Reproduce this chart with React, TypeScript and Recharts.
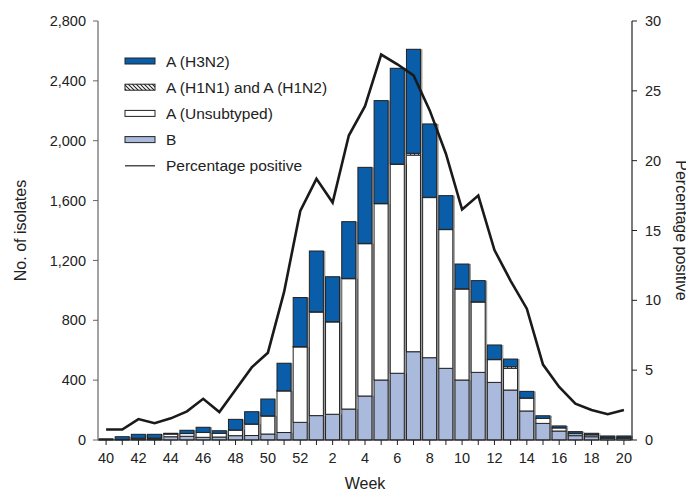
import React from 'react';
import { ComposedChart, Bar, Line, XAxis, YAxis, Legend } from 'recharts';

const weeks = ['40','41','42','43','44','45','46','47','48','49','50','51','52','1','2','3','4','5','6','7','8','9','10','11','12','13','14','15','16','17','18','19','20'];
const seriesB = [0,2,5,6,22,25,18,20,29,30,40,50,118,163,172,207,294,401,446,590,550,479,401,452,385,334,194,111,60,29,22,11,11];
const seriesUnsub = [2,2,6,6,18,18,32,24,37,76,120,278,504,692,617,871,1018,1178,1396,1314,1070,927,608,470,152,145,86,33,21,13,12,5,5];
const seriesH1 = [0,0,1,1,1,1,1,1,1,1,2,1,2,2,2,2,2,2,2,12,2,2,2,2,2,11,1,1,1,3,2,2,2];
const seriesH3 = [6,18,26,25,4,21,34,17,71,82,112,184,328,406,300,379,508,687,640,695,490,225,165,141,96,51,44,17,12,11,9,9,9];
const pctPositive = [0.75,0.75,1.5,1.2,1.55,2.05,2.95,2.0,3.6,5.2,6.25,10.6,16.4,18.7,17.0,21.8,23.9,27.6,26.9,26.1,23.6,20.5,16.5,17.5,13.6,11.4,9.4,5.4,3.8,2.6,2.15,1.85,2.15];
const leftTicks = [0,400,800,1200,1600,2000,2400,2800];
const rightTicks = [0,5,10,15,20,25,30];

const data = weeks.map((w, i) => ({
  week: w,
  B: seriesB[i],
  unsub: seriesUnsub[i],
  h1: seriesH1[i],
  h3: seriesH3[i],
  pct: pctPositive[i],
}));

const BLUE = '#0a5ea9';
const LIGHT = '#aabadd';
const FONT = '"Liberation Sans", Arial, sans-serif';

const makeShape = (fill: string) => (props: any) => {
  const { x, y, width, height } = props;
  if (!height || height <= 0) return <g />;
  return (
    <g>
      <rect x={x + 2} y={y} width={width} height={height} fill="#9c9c9c" />
      <rect x={x} y={y} width={width} height={height} fill={fill} stroke="#222" strokeWidth={1} />
    </g>
  );
};

const XTick = (props: any) => {
  const { x, y, payload } = props;
  const v = parseInt(payload.value, 10);
  if (v % 2 !== 0) return <g />;
  return (
    <text x={x} y={y} dy="0.71em" textAnchor="middle" fontSize={14.5} fill="#222" fontFamily={FONT}>
      {payload.value}
    </text>
  );
};

const LeftLabel = (props: any) => {
  const vb = props.viewBox || {};
  const cx = 12;
  const cy = vb.y + vb.height / 2;
  return (
    <text x={cx} y={cy} transform={`rotate(-90 ${cx} ${cy})`} textAnchor="middle" dominantBaseline="central" fontSize={16} fill="#222" fontFamily={FONT}>
      No. of isolates
    </text>
  );
};

const RightLabel = (props: any) => {
  const vb = props.viewBox || {};
  const cx = 673;
  const cy = vb.y + vb.height / 2;
  return (
    <text x={cx} y={cy} transform={`rotate(90 ${cx} ${cy})`} textAnchor="middle" dominantBaseline="central" fontSize={16} fill="#222" fontFamily={FONT}>
      Percentage positive
    </text>
  );
};

const BottomLabel = (props: any) => {
  const vb = props.viewBox || {};
  const cx = vb.x + vb.width / 2;
  return (
    <text x={cx} y={475} textAnchor="middle" dominantBaseline="central" fontSize={16} fill="#222" fontFamily={FONT}>
      Week
    </text>
  );
};

const legendItems = [
  { label: 'A (H3N2)', kind: 'h3' },
  { label: 'A (H1N1) and A (H1N2)', kind: 'h1' },
  { label: 'A (Unsubtyped)', kind: 'unsub' },
  { label: 'B', kind: 'b' },
  { label: 'Percentage positive', kind: 'line' },
];

const LegendContent = () => (
  <svg width={240} height={140} style={{ display: 'block' }}>
    <defs>
      <pattern id="hatchLegend" patternUnits="userSpaceOnUse" width="4" height="4">
        <rect width="4" height="4" fill="#fff" />
        <path d="M-1,-1 L5,5 M-1,3 L1,5 M3,-1 L5,1" stroke="#222" strokeWidth={1.1} />
      </pattern>
    </defs>
    {legendItems.map((it, i) => {
      const cy = 13 + 26.2 * i;
      let sw: React.ReactNode;
      if (it.kind === 'line') {
        sw = <line x1={5} x2={35} y1={cy} y2={cy} stroke="#222" strokeWidth={1.2} />;
      } else {
        const fill = it.kind === 'h3' ? BLUE : it.kind === 'h1' ? 'url(#hatchLegend)' : it.kind === 'unsub' ? '#fff' : LIGHT;
        sw = <rect x={5} y={cy - 3} width={30} height={6} fill={fill} stroke="#222" strokeWidth={1} />;
      }
      return (
        <g key={it.label}>
          {sw}
          <text x={46} y={cy} dominantBaseline="central" fontSize={15.5} fill="#222" fontFamily={FONT}>
            {it.label}
          </text>
        </g>
      );
    })}
  </svg>
);

export default function App() {
  return (
    <ComposedChart
      width={686}
      height={486}
      data={data}
      margin={{ top: 13, right: 0, bottom: 0, left: 0 }}
      barCategoryGap={0}
      barGap={0}
      style={{ fontFamily: FONT }}
    >
      <defs>
        <pattern id="hatch" patternUnits="userSpaceOnUse" width="4" height="4">
          <rect width="4" height="4" fill="#fff" />
          <path d="M-1,-1 L5,5 M-1,3 L1,5 M3,-1 L5,1" stroke="#222" strokeWidth={0.9} />
        </pattern>
      </defs>
      <XAxis
        dataKey="week"
        interval={0}
        height={54}
        tickSize={5}
        tickMargin={8}
        tick={<XTick />}
        axisLine={{ stroke: '#222', strokeWidth: 1 }}
        tickLine={{ stroke: '#222' }}
        label={<BottomLabel />}
      />
      <YAxis
        yAxisId="left"
        orientation="left"
        width={90}
        domain={[0, 2800]}
        ticks={leftTicks}
        tickSize={5}
        tickMargin={7}
        tickFormatter={(v: number) => v.toLocaleString('en-US')}
        tick={{ fontSize: 14.5, fill: '#222', fontFamily: FONT }}
        axisLine={{ stroke: '#666', strokeWidth: 1.2 }}
        tickLine={{ stroke: '#666' }}
        label={<LeftLabel />}
      />
      <YAxis
        yAxisId="right"
        orientation="right"
        width={62}
        domain={[0, 30]}
        ticks={rightTicks}
        tickSize={5}
        tickMargin={8}
        tick={{ fontSize: 14.5, fill: '#222', fontFamily: FONT }}
        axisLine={{ stroke: '#222', strokeWidth: 1.2 }}
        tickLine={{ stroke: '#222' }}
        label={<RightLabel />}
      />
      <Legend
        layout="horizontal"
        verticalAlign="middle"
        align="center"
        content={<LegendContent />}
        wrapperStyle={{ top: 40, left: 112, width: 240, height: 140 }}
      />
      <Bar yAxisId="left" dataKey="B" stackId="s" barSize={14} shape={makeShape(LIGHT)} isAnimationActive={false} />
      <Bar yAxisId="left" dataKey="unsub" stackId="s" barSize={14} shape={makeShape('#ffffff')} isAnimationActive={false} />
      <Bar yAxisId="left" dataKey="h1" stackId="s" barSize={14} shape={makeShape('url(#hatch)')} isAnimationActive={false} />
      <Bar yAxisId="left" dataKey="h3" stackId="s" barSize={14} shape={makeShape(BLUE)} isAnimationActive={false} />
      <Line yAxisId="right" dataKey="pct" type="linear" stroke="#1a1a1a" strokeWidth={2.6} dot={false} activeDot={false} isAnimationActive={false} />
    </ComposedChart>
  );
}
